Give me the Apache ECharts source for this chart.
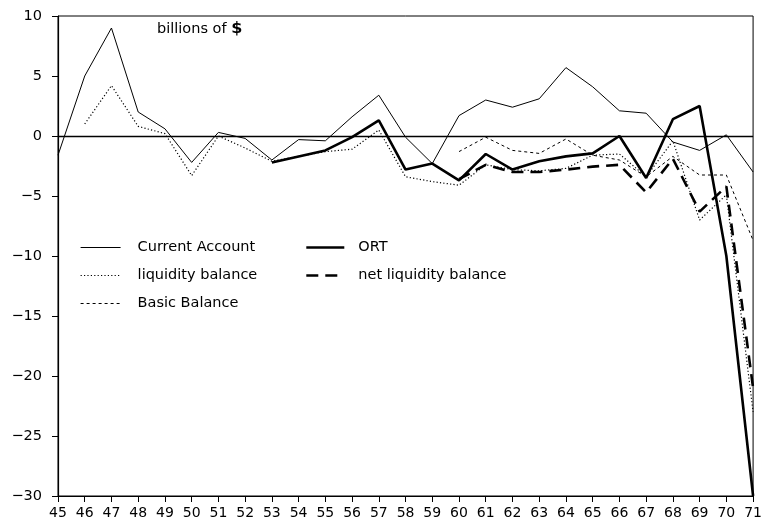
<!DOCTYPE html>
<html>
<head>
<meta charset="utf-8">
<script src="https://cdn.jsdelivr.net/npm/echarts@6/dist/echarts.min.js"></script>
<style>html,body{margin:0;padding:0;background:#fff}#c{width:765px;height:526px}</style>
</head>
<body>
<div id="c"></div>
<script>
var years = ['45','46','47','48','49','50','51','52','53','54','55','56','57','58','59','60','61','62','63','64','65','66','67','68','69','70','71'];
var currentAccount = [-1.6, 5.0, 9.0, 2.0, 0.6, -2.2, 0.3, -0.2, -2.0, -0.3, -0.4, 1.6, 3.4, -0.1, -2.3, 1.7, 3.0, 2.4, 3.1, 5.7, 4.1, 2.1, 1.9, -0.5, -1.2, 0.1, -3.0];
var liquidityBalance = [null, 1.0, 4.2, 0.8, 0.2, -3.3, 0.0, -1.0, -2.1, -1.7, -1.3, -1.1, 0.5, -3.4, -3.8, -4.1, -2.4, -2.8, -2.9, -2.7, -1.6, -1.5, -3.4, -0.4, -7.0, -4.9, -23.0];
var basicBalance = [null, null, null, null, null, null, null, null, null, null, null, null, null, null, null, -1.3, -0.1, -1.2, -1.45, -0.25, -1.6, -2.0, -3.4, -1.7, -3.25, -3.25, -8.7];
var ort = [null, null, null, null, null, null, null, null, -2.2, -1.7, -1.2, -0.1, 1.3, -2.8, -2.3, -3.7, -1.5, -2.8, -2.1, -1.7, -1.45, 0.0, -3.5, 1.4, 2.5, -10.0, -30.0];
var netLiquidity = [null, null, null, null, null, null, null, null, null, null, null, null, null, null, null, -3.6, -2.4, -3.0, -3.0, -2.8, -2.55, -2.4, -4.7, -1.9, -6.3, -4.2, -21.0];
var yTicks = [10, 5, 0, -5, -10, -15, -20, -25, -30];

var FONT = 'DejaVu Sans';
var chart = echarts.init(document.getElementById('c'), null, {renderer: 'canvas'});

var styles = {
  'Current Account': {width: 1, type: 'solid'},
  'liquidity balance': {width: 1.2, type: [1.2, 2.2]},
  'Basic Balance': {width: 1, type: [3, 3]},
  'ORT': {width: 2.6, type: 'solid'},
  'net liquidity balance': {width: 2.6, type: [12, 7]}
};

function line(name, data) {
  return {
    name: name, type: 'line', data: data, symbol: 'none', showSymbol: false,
    connectNulls: false, animation: false,
    lineStyle: {color: '#000', width: styles[name].width, type: styles[name].type},
    itemStyle: {color: '#000'}
  };
}

var series = [
  line('Current Account', currentAccount),
  line('liquidity balance', liquidityBalance),
  line('Basic Balance', basicBalance),
  line('ORT', ort),
  line('net liquidity balance', netLiquidity)
];
series[0].markLine = {
  silent: true, symbol: 'none', animation: false, label: {show: false},
  lineStyle: {color: '#000', width: 1.3, type: 'solid'},
  data: [{yAxis: 0}]
};

function legendItems(names) {
  return names.map(function (n) {
    return {name: n, lineStyle: {color: '#000', width: styles[n].width, type: styles[n].type}};
  });
}
function legendText(padLeft) {
  return {color: '#000', fontFamily: FONT, fontSize: 14.5, padding: [0, 0, 0, padLeft]};
}

chart.setOption({
  backgroundColor: '#fff',
  animation: false,
  grid: {left: 58, right: 7, top: 16, bottom: 30, show: true, borderColor: '#000', borderWidth: 1},
  legend: [
    {data: legendItems(['Current Account', 'liquidity balance', 'Basic Balance']), orient: 'vertical', left: 80, top: 240,
     padding: 0, itemWidth: 40, itemHeight: 14, itemGap: 13, textStyle: legendText(12), selectedMode: false,
     itemStyle: {opacity: 0}},
    {data: legendItems(['ORT', 'net liquidity balance']), orient: 'vertical', left: 305, top: 240,
     padding: 0, itemWidth: 38, itemHeight: 14, itemGap: 13, textStyle: legendText(9), selectedMode: false,
     itemStyle: {opacity: 0}}
  ],
  xAxis: {
    type: 'category', data: years, boundaryGap: false,
    axisLine: {onZero: false, lineStyle: {color: '#000', width: 1.2}},
    axisTick: {show: true, inside: false, length: 6, alignWithLabel: true, lineStyle: {color: '#000'}},
    axisLabel: {color: '#000', fontFamily: FONT, fontSize: 14, margin: 10, interval: 0},
    splitLine: {show: false}
  },
  yAxis: {
    type: 'value', min: -30, max: 10, interval: 5,
    axisLine: {show: true, lineStyle: {color: '#000', width: 1.2}},
    axisTick: {show: true, inside: false, length: 6, lineStyle: {color: '#000'}},
    axisLabel: {color: '#000', fontFamily: FONT, fontSize: 14.5, margin: 16,
      formatter: function (v) { return yTicks.indexOf(v) >= 0 ? (v < 0 ? '\u2212' + Math.abs(v) : String(v)) : ''; }},
    splitLine: {show: false}
  },
  graphic: [{
    type: 'text', left: 157, top: 21, silent: true,
    style: {
      text: 'billions of {b|$}', fill: '#000', font: '14.5px "DejaVu Sans"',
      rich: {b: {fontWeight: 'bold', fontSize: 16, fontFamily: FONT, fill: '#000'}}
    }
  }],
  series: series
});
</script>
</body>
</html>
